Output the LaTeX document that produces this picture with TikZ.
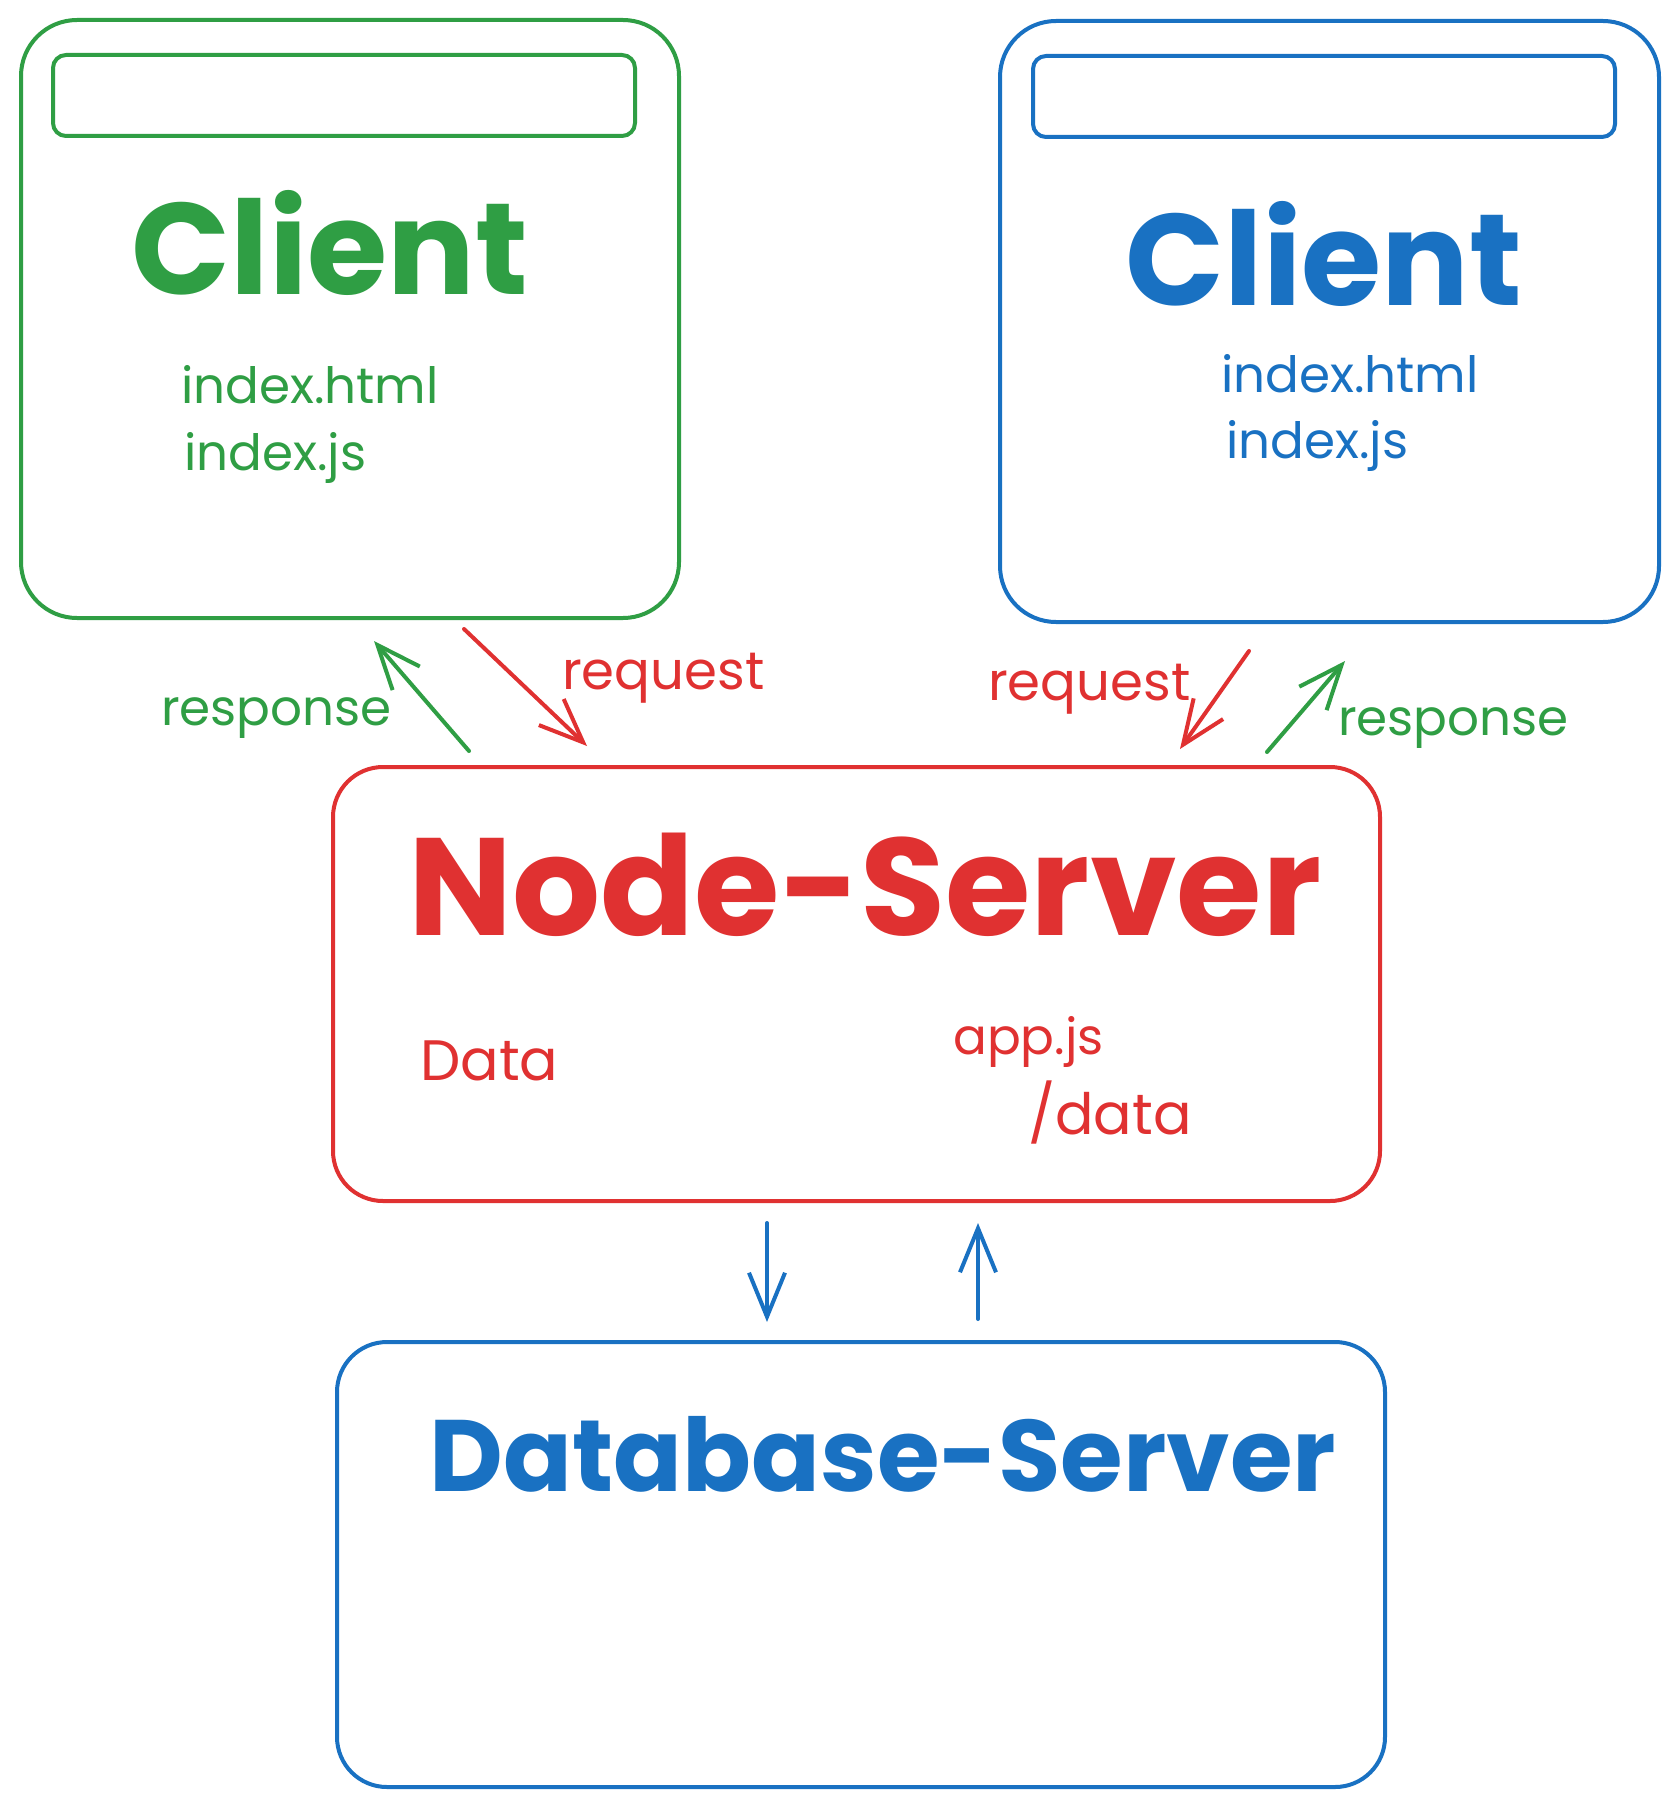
\documentclass[tikz,border=0pt]{standalone}
\usepackage{fontspec}
\setmainfont{Poppins}
\usetikzlibrary{arrows.meta}
\definecolor{exgreen}{HTML}{2F9E44}
\definecolor{exred}{HTML}{E03131}
\definecolor{exblue}{HTML}{1971C2}
\tikzset{
  box/.style={draw=#1, line width=4pt, rounded corners=56pt, inner sep=0pt},
  bar/.style={draw=#1, line width=4pt, rounded corners=13pt, inner sep=0pt},
  conn/.style={draw=#1, line width=4pt, line cap=round, -{Straight Barb[length=44pt,width=36pt,line width=4pt]}},
  big/.style={text=#1, font=\fontsize{130}{132}\selectfont\bfseries, anchor=base, inner sep=0pt},
  small/.style={text=#1, font=\fontsize{50}{52}\selectfont, anchor=base west, inner sep=0pt},
}
\begin{document}
\begin{tikzpicture}[x=1pt,y=-1pt]
\useasboundingbox[fill=white] (0,0) rectangle (1679,1806);
% boxes
\node[box=exgreen, minimum width=658pt, minimum height=598pt] (lc) at (350,319) {};
\node[bar=exgreen, minimum width=582pt, minimum height=81pt] (lcbar) at (344,95.5) {};
\node[box=exblue, minimum width=659pt, minimum height=601pt] (rc) at (1329.5,321.5) {};
\node[bar=exblue, minimum width=582pt, minimum height=81pt] (rcbar) at (1324,96.5) {};
\node[box=exred, minimum width=1047pt, minimum height=434pt, rounded corners=50pt] (ns) at (856.5,984) {};
\node[box=exblue, minimum width=1048pt, minimum height=445pt, rounded corners=50pt] (db) at (861,1564.5) {};
% texts
\node[big=exgreen] (lct) at (330,294) {Client};
\node[small=exgreen] (lch) at (181,403) {index.html};
\node[small=exgreen] (lcj) at (184,470) {index.js};
\node[big=exblue] (rct) at (1324,305) {Client};
\node[small=exblue] (rch) at (1221,392) {index.html};
\node[small=exblue] (rcj) at (1226,458) {index.js};
\node[big=exred, font=\fontsize{138.5}{140}\selectfont\bfseries] (nst) at (865,935) {Node-Server};
\node[small=exred, font=\fontsize{57}{59}\selectfont] (nsd) at (420,1080) {Data};
\node[small=exred] (nsa) at (953,1054) {app.js};
\node[small=exred, font=\fontsize{57}{59}\selectfont] (nsp) at (1028,1134) {/data};
\node[big=exblue, font=\fontsize{101.5}{103}\selectfont\bfseries] (dbt) at (883,1491) {Database-Server};
% labels
\node[small=exgreen] (lresp) at (161,725) {response};
\node[small=exred, font=\fontsize{53}{55}\selectfont] (lreq) at (562,689) {request};
\node[small=exred, font=\fontsize{53}{55}\selectfont] (rreq) at (988,700) {request};
\node[small=exgreen] (rresp) at (1338,735) {response};
% arrow endpoints
\coordinate (a1s) at (469,751); \coordinate (a1e) at (374,641);
\coordinate (a2s) at (464,629); \coordinate (a2e) at (587,746);
\coordinate (a3s) at (1249,651); \coordinate (a3e) at (1180,749);
\coordinate (a4s) at (1267,752); \coordinate (a4e) at (1345,661);
\coordinate (a5s) at (767,1223); \coordinate (a5e) at (767,1322);
\coordinate (a6s) at (978,1319); \coordinate (a6e) at (978,1223);
\draw[conn=exgreen] (a1s) -- (a1e);
\draw[conn=exred] (a2s) -- (a2e);
\draw[conn=exred] (a3s) -- (a3e);
\draw[conn=exgreen] (a4s) -- (a4e);
\draw[conn=exblue] (a5s) -- (a5e);
\draw[conn=exblue] (a6s) -- (a6e);
\end{tikzpicture}
\end{document}
